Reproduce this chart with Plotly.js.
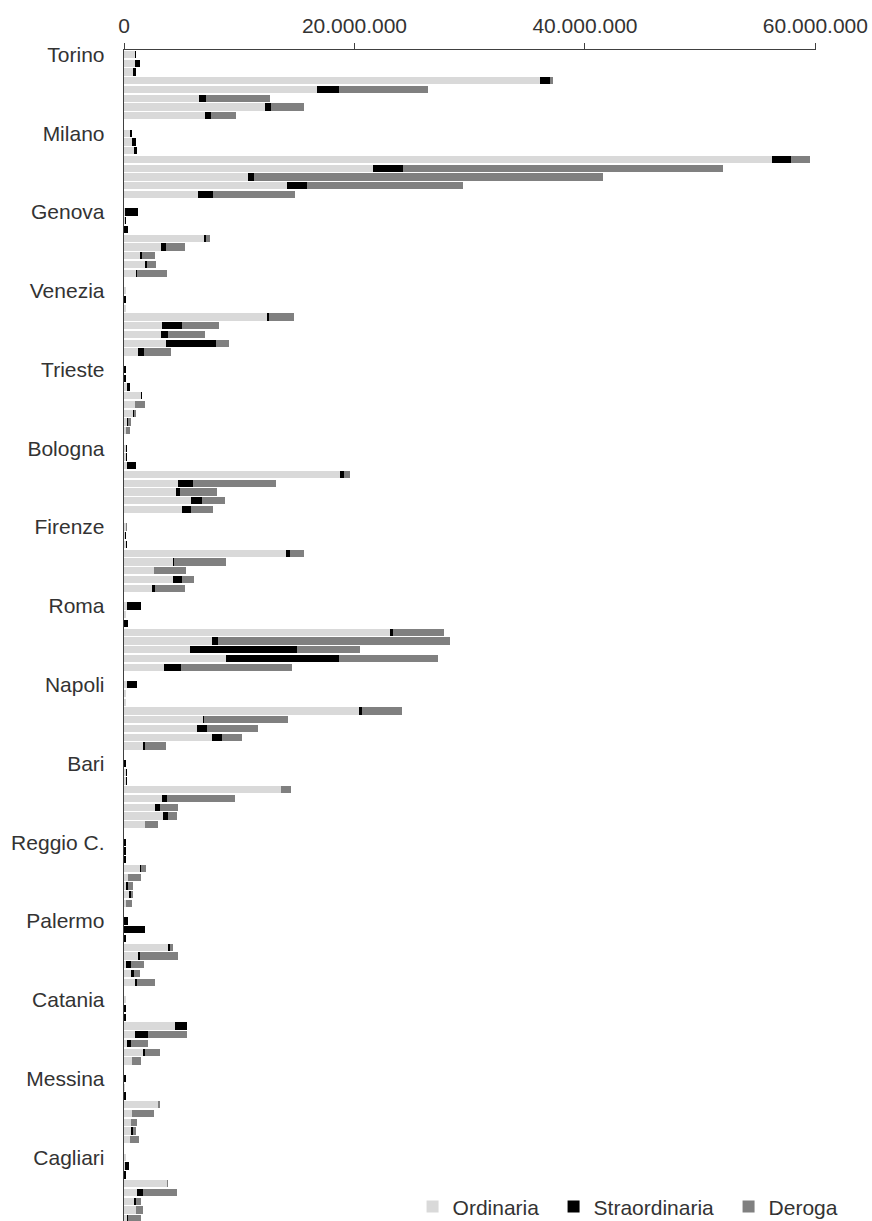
<!DOCTYPE html>
<html>
<head>
<meta charset="utf-8">
<script src="https://cdn.plot.ly/plotly-3.0.1.min.js"></script>
<style>
  html, body { margin: 0; padding: 0; background: #fff; }
  #chart { width: 872px; height: 1221px; }
</style>
</head>
<body>
<div id="chart"></div>
<script>
// Cities (category labels, top to bottom)
const cities = ["Torino", "Milano", "Genova", "Venezia", "Trieste", "Bologna", "Firenze",
  "Roma", "Napoli", "Bari", "Reggio C.", "Palermo", "Catania", "Messina", "Cagliari"];

// Values in millions, 8 bars per city (top to bottom)
const ordinaria = [
  [0.95, 0.95, 0.8, 36.1, 16.73, 6.5, 12.2, 7.06],    // Torino
  [0.5, 0.73, 0.84, 56.27, 21.6, 10.75, 14.16, 6.42], // Milano
  [0.05, 0.05, 0, 6.94, 3.18, 1.39, 1.85, 1.04],      // Genova
  [0.15, 0, 0.15, 12.4, 3.3, 3.18, 3.61, 1.19],       // Venezia
  [0, 0, 0.23, 1.5, 0.92, 0.81, 0.29, 0.2],           // Trieste
  [0.2, 0.2, 0.26, 18.73, 4.71, 4.51, 5.84, 5.06],    // Bologna
  [0.15, 0.1, 0.15, 14.05, 4.28, 2.6, 4.28, 2.4],     // Firenze
  [0.3, 0.15, 0, 23.1, 7.63, 5.75, 8.87, 3.5],        // Roma
  [0.3, 0.15, 0.15, 20.43, 6.85, 6.3, 7.63, 1.62],    // Napoli
  [0, 0.15, 0.15, 13.6, 3.3, 2.72, 3.41, 1.82],       // Bari
  [0, 0, 0, 1.42, 0.38, 0.14, 0.46, 0.14],            // Reggio C.
  [0, 0, 0, 3.82, 1.24, 0.17, 0.64, 0.92],            // Palermo
  [0.14, 0, 0, 4.39, 0.95, 0.26, 1.62, 0.72],         // Catania
  [0, 0.1, 0, 2.95, 0.72, 0.58, 0.58, 0.49],          // Messina
  [0.14, 0.1, 0, 3.73, 1.16, 0.84, 1.04, 0.26]        // Cagliari
];
const straordinaria = [
  [0.09, 0.4, 0.23, 0.87, 1.97, 0.58, 0.55, 0.46],
  [0.2, 0.29, 0.32, 1.59, 2.57, 0.55, 1.68, 1.3],
  [1.2, 0.15, 0.35, 0.2, 0.43, 0.15, 0.12, 0.12],
  [0.05, 0.2, 0.05, 0.14, 1.76, 0.66, 4.33, 0.55],
  [0.17, 0.15, 0.26, 0.03, 0, 0.02, 0.03, 0],
  [0.1, 0.1, 0.81, 0.35, 1.24, 0.35, 0.9, 0.78],
  [0.05, 0.05, 0.1, 0.38, 0.02, 0.03, 0.78, 0.26],
  [1.2, 0.05, 0.37, 0.23, 0.55, 9.3, 9.77, 1.47],
  [0.87, 0.03, 0.03, 0.2, 0.12, 0.87, 0.87, 0.23],
  [0.17, 0.1, 0.1, 0, 0.43, 0.43, 0.43, 0],
  [0.17, 0.17, 0.17, 0.09, 0, 0.17, 0.14, 0],
  [0.35, 1.82, 0.17, 0.14, 0.17, 0.4, 0.2, 0.17],
  [0, 0.17, 0.17, 1.04, 1.13, 0.38, 0.23, 0],
  [0.17, 0, 0.17, 0, 0, 0, 0.17, 0],
  [0, 0.35, 0.17, 0, 0.46, 0.2, 0, 0.05]
];
const deroga = [
  [0, 0, 0, 0.26, 7.68, 5.6, 2.83, 2.2],
  [0, 0, 0, 1.65, 27.8, 30.3, 13.6, 7.1],
  [0, 0, 0, 0.35, 1.68, 1.15, 0.84, 2.6],
  [0, 0, 0, 2.2, 3.2, 3.15, 1.21, 2.31],
  [0, 0, 0, 0.06, 0.92, 0.23, 0.32, 0.29],
  [0, 0, 0, 0.55, 7.23, 3.21, 2.0, 1.88],
  [0.05, 0, 0, 1.18, 4.57, 2.77, 1.01, 2.6],
  [0, 0, 0, 4.4, 20.1, 5.43, 8.64, 9.63],
  [0, 0, 0, 3.53, 7.23, 4.42, 1.76, 1.82],
  [0, 0, 0, 0.9, 5.9, 1.56, 0.75, 1.13],
  [0, 0, 0, 0.43, 1.1, 0.49, 0.2, 0.55],
  [0, 0, 0, 0.32, 3.29, 1.13, 0.55, 1.62],
  [0, 0, 0, 0, 3.41, 1.42, 1.3, 0.78],
  [0, 0, 0, 0.14, 1.88, 0.58, 0.29, 0.78],
  [0, 0, 0, 0.12, 2.98, 0.43, 0.58, 1.13]
];
const seriesNames = ["Ordinaria", "Straordinaria", "Deroga"];
const xTicks = [0, 20000000, 40000000, 60000000];

// ---- build traces ----
const ROWS = 9; // 8 bars + 1 spacer row per city
function rowsOf(arr) {
  const y = [], x = [];
  arr.forEach((vals, ci) => vals.forEach((v, ri) => { y.push(ci * ROWS + ri); x.push(v * 1e6); }));
  return { x, y };
}
const colors = ["#d9d9d9", "#000000", "#808080"];
const legendWidths = [96, 130, 80];
const traces = [ordinaria, straordinaria, deroga].map((arr, i) => {
  const d = rowsOf(arr);
  return {
    type: "bar", orientation: "h", name: seriesNames[i],
    x: d.x, y: d.y,
    marker: { color: colors[i], line: { width: 0 } },
    legendwidth: legendWidths[i],
    hoverinfo: "x+name"
  };
});

const FAM = "Liberation Sans, Arial, sans-serif";
const TXT = "#333333";
const layout = {
  width: 872, height: 1221,
  margin: { l: 124, r: 56, t: 50, b: 0, pad: 0, autoexpand: false },
  paper_bgcolor: "#ffffff", plot_bgcolor: "#ffffff",
  barmode: "stack", bargap: 0.17,
  separators: ",.",
  font: { family: FAM, size: 21, color: TXT },
  showlegend: true,
  legend: {
    orientation: "h", x: 0.417, xanchor: "left", y: 0.012, yanchor: "middle",
    bgcolor: "rgba(0,0,0,0)", font: { family: FAM, size: 21, color: TXT },
    traceorder: "normal"
  },
  xaxis: {
    side: "top", range: [0, 60050000], tickvals: xTicks, tickformat: ",d",
    showgrid: false, zeroline: false, showline: true, linecolor: "#404040", linewidth: 1.3,
    ticks: "outside", ticklen: 6, tickcolor: "#404040", tickwidth: 1,
    ticklabelstandoff: 1,
    tickfont: { family: FAM, size: 21, color: TXT }
  },
  yaxis: {
    range: [133.27, -0.5],
    tickvals: cities.map((c, i) => i * ROWS), ticktext: cities,
    showgrid: false, zeroline: false, showline: true, linecolor: "#404040", linewidth: 1.3,
    ticks: "", ticklabelstandoff: 14,
    tickfont: { family: FAM, size: 21, color: TXT }
  }
};

Plotly.newPlot("chart", traces, layout, { displayModeBar: false, staticPlot: true });
</script>
</body>
</html>
